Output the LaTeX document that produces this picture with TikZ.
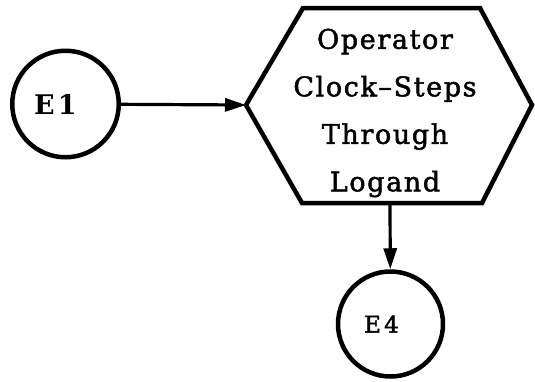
\documentclass[tikz,border=0pt]{standalone}
\usepackage{fontspec}
\setmainfont{DejaVu Serif}
\newfontfamily\spaced{DejaVu Serif}[LetterSpace=6, FakeBold=1.8]
\newfontfamily\spacedw{DejaVu Serif}[LetterSpace=14, FakeBold=1.8]
\newfontfamily\spacedb{DejaVu Serif Bold}[LetterSpace=12]
\usetikzlibrary{arrows.meta}
\tikzset{
  state/.style={circle, draw, line width=4.5pt, inner sep=0pt},
  shapeline/.style={line width=4.5pt, line join=miter},
  conn/.style={line width=3.2pt, -{Triangle[length=21pt, width=13pt]}}
}
\begin{document}
\begin{tikzpicture}[x=1pt, y=-1pt]
\useasboundingbox (0,0) rectangle (535,381);
\node[state, minimum size=106.5pt, font=\spacedb\fontsize{27}{29}\selectfont] (e1) at (65.5,104) {E1\hspace*{20pt}};
\node[state, minimum size=105pt, font=\spacedw\fontsize{23}{26}\selectfont] (e4) at (390.5,324) {E4\hspace*{18pt}};
\coordinate (hl) at (246,105);
\coordinate (hb) at (390,203);
\draw[shapeline] (hl) -- (303,8) -- (480,8) -- (532,105) -- (482,203) -- (302,203) -- cycle;
\node[align=center, font=\spaced\fontsize{27}{47.5}\selectfont] (op) at (385,113)
  {Operator\\Clock\textendash Steps\\Through\\Logand};
\draw[conn] (e1) -- (hl);
\draw[conn] (hb) -- (e4);
\end{tikzpicture}
\end{document}
